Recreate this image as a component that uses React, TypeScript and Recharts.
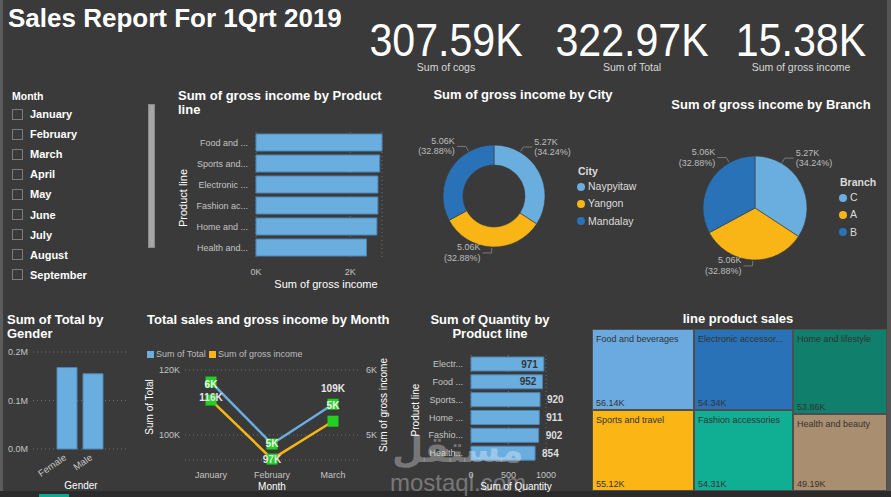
import React from 'react';
import {
  Bar,
  BarChart,
  CartesianGrid,
  Cell,
  LabelList,
  Line,
  LineChart,
  Pie,
  PieChart,
  Treemap,
  XAxis,
  YAxis,
} from 'recharts';

// ---- data ----
const reportTitle = 'Sales Report For 1Qrt 2019';

const kpiValues = ['307.59K', '322.97K', '15.38K'];
const kpiLabels = ['Sum of cogs', 'Sum of Total', 'Sum of gross income'];

// only the rows visible in the slicer
const sliceMonths = ['January', 'February', 'March', 'April', 'May', 'June', 'July', 'August', 'September'];

const incomeLines = [
  'Food and beverages', 'Sports and travel', 'Electronic accessories',
  'Fashion accessories', 'Home and lifestyle', 'Health and beauty',
];
const incomeTicks = ['Food and ...', 'Sports and...', 'Electronic ...', 'Fashion ac...', 'Home and ...', 'Health and...'];
const incomeValues = [2673.56, 2624.9, 2587.5, 2585.99, 2564.85, 2342.56];

const cities = ['Naypyitaw', 'Yangon', 'Mandalay'];
const cityIncome = [5265.18, 5057.16, 5057.03];
const branches = ['C', 'A', 'B'];
const branchIncome = [5265.18, 5057.16, 5057.03];

const genders = ['Female', 'Male'];
const genderTotal = [167882.93, 155083.82];

const salesMonths = ['January', 'February', 'March'];
const monthTotal = [116291.87, 97219.37, 109455.51];
const monthIncome = [5537.71, 4629.49, 5212.17];

const qtyLines = [
  'Electronic accessories', 'Food and beverages', 'Sports and travel',
  'Home and lifestyle', 'Fashion accessories', 'Health and beauty',
];
const qtyTicks = ['Electr...', 'Food ...', 'Sports...', 'Home ...', 'Fashio...', 'Health...'];
const qtyValues = [971, 952, 920, 911, 902, 854];

const treeNames = [
  'Food and beverages', 'Sports and travel', 'Electronic accessories',
  'Fashion accessories', 'Home and lifestyle', 'Health and beauty',
];
const treeSales = [56144.84, 55122.83, 54337.53, 54305.9, 53861.91, 49193.74];

// ---- styles ----
const BG = '#3a3a3a';
const FONT = '"Liberation Sans", Arial, sans-serif';
const BLUE = '#6aaee0';
const BAR_EDGE = '#4f86b5';
const YELLOW = '#f9b515';
const DARK_BLUE = '#2a72b8';
const SLICE_COLORS = [BLUE, YELLOW, DARK_BLUE];
const TREE_COLORS = ['#6aaae0', '#fbb514', '#2a72b8', '#10ae93', '#107f6c', '#a98e6f'];
const TICK = '#c4c4c4';
const GRID = '#6e6e6e';
const MARKER = '#22cf22';

const incomeData = incomeLines.map((name, i) => ({ name, tick: incomeTicks[i], value: incomeValues[i] }));
const cityData = cities.map((name, i) => ({ name, value: cityIncome[i] }));
const branchData = branches.map((name, i) => ({ name, value: branchIncome[i] }));
const genderData = genders.map((gender, i) => ({ gender, total: genderTotal[i] }));
const monthData = salesMonths.map((month, i) => ({ month, total: monthTotal[i], income: monthIncome[i] }));
const qtyData = qtyLines.map((name, i) => ({ name, tick: qtyTicks[i], qty: qtyValues[i] }));
const treeData = treeNames.map((name, i) => ({ name, value: treeSales[i] }));

const fmtK = (v: number) => `${(v / 1000).toFixed(2)}K`;

let measureCtx: CanvasRenderingContext2D | null = null;
function fitText(text: string, maxWidth: number, font: string) {
  if (!measureCtx) measureCtx = document.createElement('canvas').getContext('2d');
  if (!measureCtx) return text;
  measureCtx.font = font;
  if (measureCtx.measureText(text).width <= maxWidth) return text;
  let t = text;
  while (t.length > 1 && measureCtx.measureText(t + '...').width > maxWidth) t = t.slice(0, -1);
  return t + '...';
}

// ---- small pieces ----
const abs = (left: number, top: number, extra: React.CSSProperties = {}): React.CSSProperties => ({
  position: 'absolute',
  left,
  top,
  ...extra,
});

function Title({ left, top, width, align = 'left', children }: any) {
  return (
    <div
      style={abs(left, top, {
        width,
        textAlign: align,
        color: '#fff',
        fontWeight: 'bold',
        fontSize: 13,
        lineHeight: '14px',
        whiteSpace: 'nowrap',
      })}
    >
      {children}
    </div>
  );
}

function AxisTitle({ x, y, rotate = false, size = 11, children }: any) {
  return (
    <div
      style={abs(x, y, {
        color: '#fff',
        fontSize: size,
        lineHeight: '12px',
        whiteSpace: 'nowrap',
        transform: `translate(-50%, -50%)${rotate ? ' rotate(-90deg)' : ''}`,
      })}
    >
      {children}
    </div>
  );
}

const RAD = Math.PI / 180;
function sliceLabel(p: any) {
  const { cx, cy, midAngle, outerRadius, percent, value, index } = p;
  let a = ((midAngle % 360) + 360) % 360;
  if (a > 0 && a < 180) a = a + (90 - a) / 2;
  const cos = Math.cos(a * RAD);
  const sin = Math.sin(a * RAD);
  const sx = cx + (outerRadius + 1) * cos;
  const sy = cy - (outerRadius + 1) * sin;
  const ex = sx + 5 * cos;
  const ey = sy - 5 * sin;
  const right = cos >= 0;
  const hx = ex + (right ? 9 : -9);
  const tx = hx + (right ? 2 : -2);
  return (
    <g key={`lbl-${index}`}>
      <polyline points={`${sx},${sy} ${ex},${ey} ${hx},${ey}`} fill="none" stroke="#7a7a7a" strokeWidth={1} />
      <text x={tx} y={ey - 2.5} textAnchor={right ? 'start' : 'end'} fill="#bdbdbd" fontSize={9}>
        {fmtK(value)}
      </text>
      <text x={tx} y={ey + 8} textAnchor={right ? 'start' : 'end'} fill="#bdbdbd" fontSize={9}>
        ({(percent * 100).toFixed(2)}%)
      </text>
    </g>
  );
}

function PieLegend({ left, top, title, names }: any) {
  return (
    <div style={abs(left, top, { color: '#dcdcdc', fontSize: 10.5 })}>
      <div style={{ fontWeight: 'bold', fontSize: 10.5, height: 14, lineHeight: '14px' }}>{title}</div>
      {names.map((n: string, i: number) => (
        <div key={n} style={{ height: 17.3, lineHeight: '17px', display: 'flex', alignItems: 'center' }}>
          <span
            style={{
              width: 8,
              height: 8,
              borderRadius: 4,
              background: SLICE_COLORS[i],
              marginLeft: -1,
              marginRight: 3,
              display: 'inline-block',
            }}
          />
          {n}
        </div>
      ))}
    </div>
  );
}

function GenderTick({ x, y, payload }: any) {
  return (
    <text
      x={x}
      y={y + 2}
      transform={`rotate(-35 ${x} ${y + 2})`}
      textAnchor="end"
      fill={TICK}
      fontSize={9.5}
    >
      {payload.value}
    </text>
  );
}

function GenderYTick({ y, payload }: any) {
  return (
    <text x={8} y={y + 3} fill={TICK} fontSize={9}>
      {(payload.value / 1e6).toFixed(1)}M
    </text>
  );
}

function squareDot(p: any) {
  return <rect key={`dot-${p.dataKey}-${p.index}`} x={p.cx - 5.5} y={p.cy - 5.5} width={11} height={11} fill={MARKER} />;
}

function totalLabel(p: any) {
  const { x, y, value, index } = p;
  const below = index < monthTotal.length - 1;
  return (
    <text key={`tl-${index}`} x={x} y={below ? y + 19 : y - 12} textAnchor="middle" fill="#e6e6e6" fontSize={10} fontWeight="bold">
      {Math.round(value / 1000)}K
    </text>
  );
}

function incomeLabel(p: any) {
  const { x, y, value, index } = p;
  return (
    <text key={`il-${index}`} x={x} y={y - 12} textAnchor="middle" fill="#f2f2f2" fontSize={10} fontWeight="bold">
      {Math.round(value / 1000)}K
    </text>
  );
}

function qtyLabel(p: any) {
  const { x, y, width, height, value, index } = p;
  const inside = value / 1000 > 0.93;
  return (
    <text
      key={`ql-${index}`}
      x={inside ? x + width - 6 : x + width + 7}
      y={y + height / 2 + 3.5}
      textAnchor={inside ? 'end' : 'start'}
      fill={inside ? '#353535' : '#dedede'}
      fontSize={10}
      fontWeight="bold"
    >
      {value}
    </text>
  );
}

function TreeCell(p: any) {
  const { x, y, width, height, depth, name, value } = p;
  if (depth < 1 || !name) return <g />;
  const color = TREE_COLORS[treeNames.indexOf(name)];
  const font = `9.5px ${FONT}`;
  return (
    <g>
      <rect x={x} y={y} width={width} height={height} fill={color} stroke="#4e4e4e" strokeWidth={2} />
      <text x={x + 4} y={y + 13} fill="#333" fontSize={9}>
        {fitText(name, width - 8, font)}
      </text>
      <text x={x + 4} y={y + height - 4} fill="#333" fontSize={9}>
        {fmtK(value)}
      </text>
    </g>
  );
}

export default function App() {
  return (
    <div
      style={{
        position: 'relative',
        width: 891,
        height: 497,
        background: BG,
        overflow: 'hidden',
        fontFamily: FONT,
      }}
    >
      <style>{'body{margin:0;}'}</style>

      {/* frame */}
      <div style={abs(0, 0, { width: 3, height: 497, background: '#5c5c5c' })} />
      <div style={abs(887, 0, { width: 4, height: 497, background: '#555' })} />
      <div style={abs(0, 491, { width: 891, height: 6, background: '#2b2b2b' })} />
      <div style={abs(39, 494, { width: 30, height: 3, background: '#12a88f' })} />

      {/* header */}
      <div style={abs(8, 5, { color: '#fff', fontWeight: 'bold', fontSize: 26, lineHeight: '26px', whiteSpace: 'nowrap' })}>
        {reportTitle}
      </div>
      {kpiValues.map((v, i) => {
        const centers = [446, 632, 801];
        return (
          <React.Fragment key={v}>
            <div
              style={abs(centers[i] - 100, 16, {
                width: 200,
                textAlign: 'center',
                color: '#fff',
                fontSize: 47,
                lineHeight: '47px',
                transform: 'scaleX(0.875)',
              })}
            >
              {v}
            </div>
            <div
              style={abs(centers[i] - 100, 61, {
                width: 200,
                textAlign: 'center',
                color: '#d8d8d8',
                fontSize: 10.5,
                lineHeight: '12px',
              })}
            >
              {kpiLabels[i]}
            </div>
          </React.Fragment>
        );
      })}

      {/* month slicer */}
      <div style={abs(12, 90, { color: '#fff', fontWeight: 'bold', fontSize: 10.5, lineHeight: '12px' })}>Month</div>
      <div style={abs(0, 104, { width: 146, height: 186, overflow: 'hidden' })}>
        {sliceMonths.map((m, i) => (
          <div key={m} style={abs(12, i * 20.1, { display: 'flex', alignItems: 'center', height: 20 })}>
            <span style={{ width: 9, height: 9, border: '1px solid #7c7c7c', display: 'inline-block' }} />
            <span style={{ marginLeft: 7, color: '#fff', fontWeight: 'bold', fontSize: 11 }}>{m}</span>
          </div>
        ))}
        <span style={abs(12, 186, { width: 9, height: 9, border: '1px solid #7c7c7c' })} />
      </div>
      <div style={abs(148, 104, { width: 5, height: 142, background: '#a6a6a6', border: '1px solid #8a8a8a' })} />

      {/* gross income by product line */}
      <Title left={178} top={89} width={210}>
        Sum of gross income by Product
        <br />
        line
      </Title>
      <div style={abs(170, 120)}>
        <BarChart width={220} height={175} data={incomeData} layout="vertical" margin={{ top: 12, right: 8, bottom: 7, left: 0 }}>
          <CartesianGrid horizontal={false} stroke={GRID} strokeDasharray="1 3" />
          <XAxis
            type="number"
            domain={[0, 'dataMax']}
            ticks={[0, 2000]}
            tickFormatter={(v: number) => `${v / 1000}K`}
            axisLine={false}
            tickLine={false}
            tickMargin={5}
            height={30}
            tick={{ fill: TICK, fontSize: 9 }}
          />
          <YAxis
            type="category"
            dataKey="tick"
            width={86}
            axisLine={false}
            tickLine={false}
            interval={0}
            tick={{ fill: TICK, fontSize: 9 }}
          />
          <Bar dataKey="value" fill={BLUE} stroke={BAR_EDGE} barSize={17} isAnimationActive={false} />
        </BarChart>
      </div>
      <AxisTitle x={183} y={198} rotate>
        Product line
      </AxisTitle>
      <AxisTitle x={326} y={284}>
        Sum of gross income
      </AxisTitle>

      {/* gross income by city */}
      <Title left={390} top={88} width={266} align="center">
        Sum of gross income by City
      </Title>
      <div style={abs(390, 80)}>
        <PieChart width={250} height={200} margin={{ top: 0, right: 0, bottom: 0, left: 0 }}>
          <Pie
            data={cityData}
            dataKey="value"
            nameKey="name"
            cx={104}
            cy={116}
            innerRadius={31}
            outerRadius={51}
            startAngle={90}
            endAngle={-270}
            stroke={BG}
            strokeWidth={0.6}
            label={sliceLabel}
            labelLine={false}
            isAnimationActive={false}
          >
            {cityData.map((d, i) => (
              <Cell key={d.name} fill={SLICE_COLORS[i]} />
            ))}
          </Pie>
        </PieChart>
      </div>
      <PieLegend left={578} top={164} title="City" names={cities} />

      {/* gross income by branch */}
      <Title left={640} top={98} width={262} align="center">
        Sum of gross income by Branch
      </Title>
      <div style={abs(640, 80)}>
        <PieChart width={247} height={200} margin={{ top: 0, right: 0, bottom: 0, left: 0 }}>
          <Pie
            data={branchData}
            dataKey="value"
            nameKey="name"
            cx={115}
            cy={128}
            outerRadius={52}
            startAngle={90}
            endAngle={-270}
            stroke={BG}
            strokeWidth={0.6}
            label={sliceLabel}
            labelLine={false}
            isAnimationActive={false}
          >
            {branchData.map((d, i) => (
              <Cell key={d.name} fill={SLICE_COLORS[i]} />
            ))}
          </Pie>
        </PieChart>
      </div>
      <PieLegend left={840} top={175} title="Branch" names={branches} />

      {/* total by gender */}
      <Title left={7} top={313} width={120}>
        Sum of Total by
        <br />
        Gender
      </Title>
      <div style={abs(0, 340)}>
        <BarChart width={140} height={157} data={genderData} margin={{ top: 12, right: 12, bottom: 0, left: 0 }}>
          <CartesianGrid vertical={false} stroke={GRID} strokeDasharray="1 3" />
          <XAxis
            dataKey="gender"
            padding={{ left: 21, right: 22 }}
            axisLine={false}
            tickLine={false}
            interval={0}
            height={48}
            tick={<GenderTick />}
          />
          <YAxis
            domain={[0, 200000]}
            ticks={[0, 100000, 200000]}
            width={33}
            axisLine={false}
            tickLine={false}
            tick={<GenderYTick />}
          />
          <Bar dataKey="total" fill={BLUE} stroke={BAR_EDGE} barSize={20} isAnimationActive={false} />
        </BarChart>
      </div>
      <AxisTitle x={81} y={486} size={10}>
        Gender
      </AxisTitle>

      {/* total and gross income by month */}
      <Title left={147} top={313} width={245}>
        Total sales and gross income by Month
      </Title>
      <div style={abs(147, 349, { display: 'flex', alignItems: 'center', fontSize: 9, color: '#bdbdbd', lineHeight: '10px' })}>
        <span style={{ width: 7, height: 7, background: BLUE, display: 'inline-block', marginRight: 2 }} />
        <span>Sum of Total</span>
        <span style={{ width: 7, height: 7, background: YELLOW, display: 'inline-block', marginLeft: 3, marginRight: 2 }} />
        <span>Sum of gross income</span>
      </div>
      <div style={abs(140, 340)}>
        <LineChart width={250} height={157} data={monthData} margin={{ top: 30, right: 0, bottom: 7, left: 0 }}>
          <CartesianGrid vertical={false} stroke={GRID} strokeDasharray="1 3" yAxisId="left" />
          <XAxis
            dataKey="month"
            scale="point"
            padding={{ left: 26, right: 25 }}
            axisLine={false}
            tickLine={false}
            tickMargin={6}
            height={30}
            interval={0}
            tick={{ fill: TICK, fontSize: 9 }}
          />
          <YAxis
            yAxisId="left"
            domain={[92300, 120000]}
            ticks={[100000, 120000]}
            tickFormatter={(v: number) => `${v / 1000}K`}
            width={45}
            axisLine={false}
            tickLine={false}
            tickSize={3}
            tick={{ fill: TICK, fontSize: 9 }}
          />
          <YAxis
            yAxisId="right"
            orientation="right"
            domain={[4615, 6000]}
            ticks={[5000, 6000]}
            tickFormatter={(v: number) => `${v / 1000}K`}
            width={32}
            axisLine={false}
            tickLine={false}
            tick={{ fill: TICK, fontSize: 9, textAnchor: 'start' }}
          />
          <Line
            yAxisId="left"
            dataKey="total"
            stroke={BLUE}
            strokeWidth={2.5}
            dot={squareDot}
            activeDot={false}
            isAnimationActive={false}
          />
          <Line
            yAxisId="right"
            dataKey="income"
            stroke={YELLOW}
            strokeWidth={2.5}
            dot={squareDot}
            activeDot={false}
            isAnimationActive={false}
          />
          <Line yAxisId="left" dataKey="total" stroke="none" dot={false} activeDot={false} isAnimationActive={false}>
            <LabelList dataKey="total" content={totalLabel} />
          </Line>
          <Line yAxisId="right" dataKey="income" stroke="none" dot={false} activeDot={false} isAnimationActive={false}>
            <LabelList dataKey="income" content={incomeLabel} />
          </Line>
        </LineChart>
      </div>
      <AxisTitle x={150} y={407} rotate size={10}>
        Sum of Total
      </AxisTitle>
      <AxisTitle x={384} y={405} rotate size={10}>
        Sum of gross income
      </AxisTitle>
      <AxisTitle x={272} y={487} size={10}>
        Month
      </AxisTitle>

      {/* quantity by product line */}
      <Title left={390} top={313} width={200} align="center">
        Sum of Quantity by
        <br />
        Product line
      </Title>
      <div style={abs(390, 340)}>
        <BarChart width={200} height={157} data={qtyData} layout="vertical" margin={{ top: 15, right: 44, bottom: 5, left: 0 }}>
          <CartesianGrid horizontal={false} stroke={GRID} strokeDasharray="1 3" />
          <XAxis
            type="number"
            domain={[0, 1000]}
            ticks={[0, 500, 1000]}
            axisLine={false}
            tickLine={false}
            tickMargin={4}
            height={30}
            tick={{ fill: TICK, fontSize: 9 }}
          />
          <YAxis
            type="category"
            dataKey="tick"
            width={81}
            axisLine={false}
            tickLine={false}
            interval={0}
            tick={{ fill: TICK, fontSize: 9 }}
          />
          <Bar dataKey="qty" fill={BLUE} stroke={BAR_EDGE} barSize={14} isAnimationActive={false}>
            <LabelList dataKey="qty" content={qtyLabel} />
          </Bar>
        </BarChart>
      </div>
      <AxisTitle x={416} y={410} rotate size={10}>
        Product line
      </AxisTitle>
      <AxisTitle x={516} y={487} size={10}>
        Sum of Quantity
      </AxisTitle>

      {/* treemap */}
      <Title left={588} top={312} width={300} align="center">
        line product sales
      </Title>
      <div style={abs(592, 329)}>
        <Treemap
          width={295}
          height={162}
          data={treeData}
          dataKey="value"
          nameKey="name"
          isAnimationActive={false}
          content={<TreeCell />}
        />
      </div>

      {/* watermark */}
      <div
        style={abs(392, 430, {
          color: 'rgba(255,255,255,0.33)',
          fontFamily: '"DejaVu Sans", sans-serif',
          fontWeight: 'bold',
          fontSize: 36,
          lineHeight: '40px',
          pointerEvents: 'none',
        })}
      >
        مستقل
      </div>
      <div
        style={abs(390, 471, {
          color: 'rgba(255,255,255,0.33)',
          fontSize: 24,
          lineHeight: '24px',
          pointerEvents: 'none',
        })}
      >
        mostaql.com
      </div>
    </div>
  );
}
